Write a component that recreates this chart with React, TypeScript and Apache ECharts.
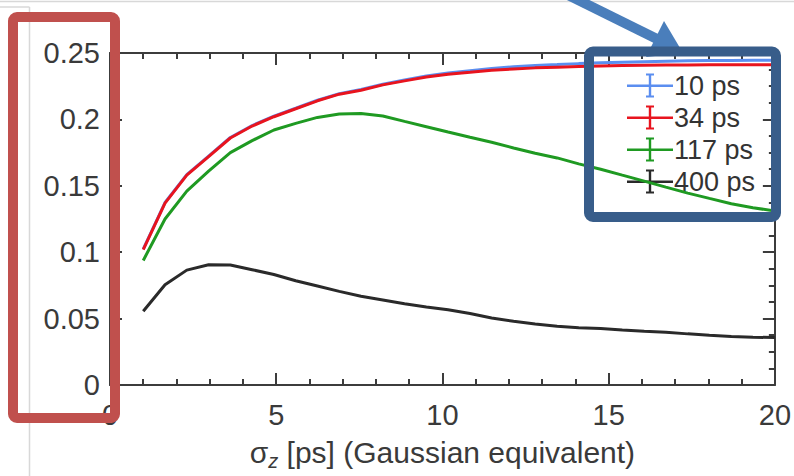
import React, { useEffect, useRef } from "react";
import * as echarts from "echarts";

const sigmaZ = [1, 1.655, 2.31, 2.966, 3.62, 4.276, 4.93, 5.586, 6.24, 6.897, 7.55, 8.207, 8.86, 9.517, 10.17, 10.83, 11.48, 12.14, 12.79, 13.45, 14.1, 14.76, 15.41, 16.07, 16.72, 17.38, 18.03, 18.69, 19.34, 20];

const s10ps = [0.1024, 0.1374, 0.1584, 0.1724, 0.1864, 0.1954, 0.2024, 0.2084, 0.2144, 0.2194, 0.2225, 0.2265, 0.2296, 0.2327, 0.2349, 0.2366, 0.2383, 0.2396, 0.2406, 0.2413, 0.242, 0.2426, 0.2431, 0.2435, 0.2438, 0.2441, 0.2443, 0.2444, 0.2445, 0.2446];
const s34ps = [0.102, 0.137, 0.158, 0.172, 0.186, 0.195, 0.202, 0.208, 0.214, 0.219, 0.222, 0.226, 0.229, 0.232, 0.234, 0.2355, 0.237, 0.238, 0.2388, 0.2393, 0.2398, 0.2402, 0.2405, 0.2407, 0.2409, 0.241, 0.2411, 0.2412, 0.2412, 0.2412];
const s117ps = [0.0938, 0.125, 0.146, 0.161, 0.175, 0.184, 0.192, 0.197, 0.2015, 0.204, 0.2045, 0.2025, 0.1985, 0.1945, 0.1905, 0.1865, 0.1828, 0.1785, 0.1745, 0.171, 0.1665, 0.1625, 0.158, 0.1535, 0.149, 0.1445, 0.1405, 0.1365, 0.1335, 0.131];
const s400ps = [0.0555, 0.0755, 0.0865, 0.0905, 0.0903, 0.0868, 0.0832, 0.0785, 0.0745, 0.0705, 0.0668, 0.064, 0.0612, 0.0588, 0.0566, 0.0538, 0.0505, 0.048, 0.046, 0.0443, 0.0432, 0.0425, 0.0415, 0.0405, 0.0397, 0.0385, 0.0375, 0.0365, 0.036, 0.0357];

const seriesNames = ["10 ps", "34 ps", "117 ps", "400 ps"];
const seriesColors = ["#5b8ef0", "#e8141e", "#1f9a22", "#2a2a2a"];
const seriesValues = [s10ps, s34ps, s117ps, s400ps];

const yTicks = { min: 0, max: 0.25, interval: 0.05 };
const xTicks = { min: 0, max: 20, interval: 5 };

const FONT = "Liberation Sans, Arial, sans-serif";
const AX = "#3c3c3c";
const TXT = "#3a3a3a";

export default function App() {
  const ref = useRef<HTMLDivElement>(null);
  useEffect(() => {
    if (!ref.current) return;
    const chart = echarts.init(ref.current, undefined, { renderer: "svg" });
    const errIcon = "path://M0,11h46v2.4h-46z M21.8,0h2.4v24h-2.4z M19,0h8v2h-8z M19,22h8v2h-8z";
    const baseX = {
      type: "value",
      min: xTicks.min,
      max: xTicks.max,
      interval: xTicks.interval,
      axisLine: { show: true, onZero: false, lineStyle: { color: AX, width: 2 } },
      axisTick: { show: true, inside: true, length: 12, lineStyle: { color: AX, width: 2 } },
      minorTick: { show: true, splitNumber: 5, length: 6, lineStyle: { color: AX, width: 2 } },
      splitLine: { show: false },
    };
    const baseY = {
      type: "value",
      min: yTicks.min,
      max: yTicks.max,
      interval: yTicks.interval,
      axisLine: { show: true, onZero: false, lineStyle: { color: AX, width: 2 } },
      axisTick: { show: true, inside: true, length: 12, lineStyle: { color: AX, width: 2 } },
      minorTick: { show: true, splitNumber: 4, length: 6, lineStyle: { color: AX, width: 2 } },
      splitLine: { show: false },
    };
    chart.setOption({
      animation: false,
      backgroundColor: "#ffffff",
      grid: { left: 110, right: 17, top: 53, bottom: 89, containLabel: false },
      legend: {
        orient: "vertical",
        left: 622,
        top: 67,
        itemWidth: 46,
        itemHeight: 24,
        itemGap: 5,
        icon: errIcon,
        data: seriesNames,
        textStyle: { fontFamily: FONT, fontSize: 27, color: "#333", padding: [0, 0, 0, -4] },
      },
      xAxis: [
        {
          ...baseX,
          position: "bottom",
          axisLabel: { show: true, fontFamily: FONT, fontSize: 29, color: TXT, margin: 15 },
          name: "{s|σ}{z|z}{t| [ps] (Gaussian equivalent)}",
          nameLocation: "middle",
          nameGap: 48,
          nameTextStyle: {
            fontFamily: FONT,
            color: TXT,
            rich: {
              s: { fontFamily: FONT, fontSize: 30, color: TXT },
              z: { fontFamily: FONT, fontSize: 20, color: TXT, fontStyle: "italic", padding: [18, 0, 0, 0] },
              t: { fontFamily: FONT, fontSize: 30, color: TXT },
            },
          },
        },
        { ...baseX, position: "top", axisLabel: { show: false } },
      ],
      yAxis: [
        {
          ...baseY,
          position: "left",
          minorTick: { show: false },
          axisLabel: { show: true, fontFamily: FONT, fontSize: 29, color: TXT, margin: 10 },
        },
        { ...baseY, position: "right", axisLabel: { show: false } },
      ],
      series: seriesNames.map((name, i) => ({
        name,
        type: "line",
        xAxisIndex: 0,
        yAxisIndex: 0,
        data: sigmaZ.map((x, j) => [x, seriesValues[i][j]]),
        showSymbol: false,
        symbol: "none",
        lineStyle: { color: seriesColors[i], width: 3 },
        itemStyle: { color: seriesColors[i] },
        z: 2 + i,
      })),
      graphic: [
        { type: "line", z: 50, shape: { x1: 0, y1: 1.5, x2: 794, y2: 1.5 }, style: { stroke: "#d8d8d8", lineWidth: 1.5 } },
        { type: "line", z: 50, shape: { x1: 29.5, y1: 7, x2: 29.5, y2: 476 }, style: { stroke: "#d8d8d8", lineWidth: 1.5 } },
        { type: "line", z: 50, shape: { x1: 0, y1: 7, x2: 29.5, y2: 7 }, style: { stroke: "#d8d8d8", lineWidth: 1.5 } },
        {
          type: "rect",
          z: 60,
          shape: { x: 13, y: 17, width: 102, height: 401, r: 4 },
          style: { fill: "none", stroke: "#c0504d", lineWidth: 10 },
        },
        {
          type: "line",
          z: 60,
          shape: { x1: 566, y1: -6, x2: 657, y2: 39 },
          style: { stroke: "#4a7ebb", lineWidth: 10 },
        },
        {
          type: "polygon",
          z: 60,
          shape: { points: [[664, 21], [646, 57], [683, 53]] },
          style: { fill: "#4a7ebb" },
        },
        {
          type: "rect",
          z: 61,
          shape: { x: 589, y: 51.5, width: 187, height: 165.5, r: 4 },
          style: { fill: "none", stroke: "#385d8a", lineWidth: 10 },
        },
      ],
    });
    return () => chart.dispose();
  }, []);
  return <div ref={ref} style={{ width: 794, height: 476, position: "absolute", left: 0, top: 0 }} />;
}
